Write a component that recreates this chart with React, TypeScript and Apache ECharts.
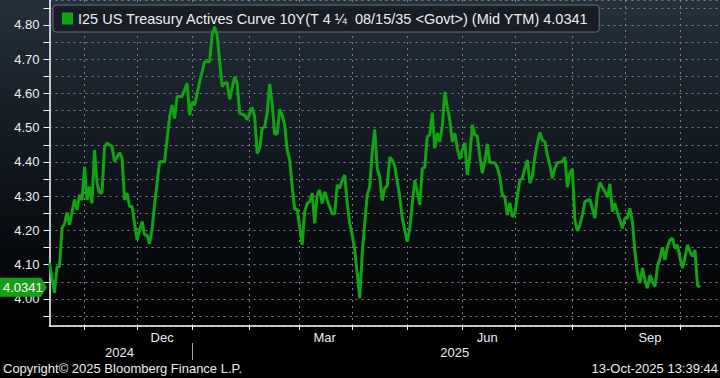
import { useEffect, useRef } from 'react';
import * as echarts from 'echarts';

// Business-day axis: every weekday from 14-Oct-2024 onward
const AXIS_START = [2024, 9, 14];
const AXIS_DAYS = 269;

// Business days since 14-Oct-2024, and the 10Y yield (Mid YTM) on that day
const tradingDay = [
  0, 2, 3, 4, 5, 6, 7, 8, 10, 11, 12, 13, 14, 15, 16, 17, 18, 19, 20, 21, 22, 23, 25, 26, 28, 29,
  30, 31, 32, 33, 35, 36, 37, 38, 39, 40, 41, 42, 44, 46, 48, 49, 50, 51, 53, 55, 56, 57, 58, 60,
  62, 64, 65, 66, 67, 69, 70, 71, 72, 74, 75, 76, 78, 79, 81, 82, 83, 84, 85, 86, 87, 88, 89, 90,
  91, 92, 93, 94, 95, 96, 97, 98, 99, 101, 102, 103, 104, 105, 106, 107, 108, 109, 110, 111, 113,
  114, 115, 116, 117, 118, 119, 120, 121, 122, 123, 124, 125, 126, 127, 128, 129, 130, 131, 132,
  133, 134, 135, 136, 137, 138, 140, 141, 142, 143, 144, 145, 146, 147, 148, 149, 150, 151, 152,
  153, 154, 155, 156, 157, 158, 159, 160, 161, 162, 163, 164, 165, 166, 167, 168, 169, 170, 171,
  172, 173, 174, 175, 176, 178, 179, 180, 181, 182, 183, 184, 185, 186, 187, 188, 189, 190, 191,
  192, 193, 194, 195, 196, 197, 198, 199, 200, 201, 202, 203, 205, 206, 207, 208, 209, 210, 211,
  212, 213, 214, 216, 218, 219, 220, 222, 223, 224, 225, 226, 227, 228, 229, 230, 231, 232, 233,
  234, 235, 236, 237, 238, 239, 240, 241, 242, 243, 244, 245, 246, 247, 248, 249, 250, 251, 252,
  253, 254, 255, 256, 257, 258, 259, 260,
];
const yields = [
  4.105, 4.018, 4.094, 4.094, 4.207, 4.22, 4.252, 4.216, 4.29, 4.26, 4.304, 4.289, 4.386, 4.289,
  4.328, 4.279, 4.435, 4.338, 4.309, 4.31, 4.445, 4.455, 4.445, 4.401, 4.427, 4.411,
  4.289, 4.309, 4.27, 4.27, 4.172, 4.201, 4.226, 4.187, 4.187, 4.161, 4.206, 4.275, 4.401, 4.401,
  4.532, 4.566, 4.527, 4.591, 4.591, 4.63, 4.537, 4.576, 4.566, 4.634,
  4.693, 4.693, 4.771, 4.795, 4.771, 4.62, 4.63, 4.632, 4.583, 4.649, 4.63, 4.542, 4.537, 4.523,
  4.56, 4.532, 4.425, 4.44, 4.498, 4.503, 4.542, 4.628, 4.571, 4.482,
  4.482, 4.554, 4.537, 4.508, 4.435, 4.406, 4.328, 4.262, 4.262, 4.158, 4.255, 4.279, 4.284, 4.309,
  4.221, 4.304, 4.318, 4.279, 4.313, 4.289, 4.248,
  4.25, 4.333, 4.323, 4.347, 4.362, 4.279, 4.221, 4.187, 4.143, 4.075, 4.002, 4.133, 4.221, 4.304,
  4.328, 4.43, 4.495, 4.381, 4.357,
  4.287, 4.323, 4.33, 4.414, 4.406, 4.388, 4.299, 4.236, 4.201, 4.167, 4.206, 4.279, 4.347, 4.313,
  4.275, 4.381, 4.384, 4.474, 4.479,
  4.544, 4.44, 4.484, 4.459, 4.503, 4.605, 4.562, 4.523, 4.459, 4.484, 4.44, 4.408, 4.435, 4.456,
  4.362, 4.418, 4.508, 4.479, 4.476,
  4.416, 4.367, 4.401, 4.453, 4.398, 4.398, 4.384, 4.357, 4.304, 4.297, 4.245, 4.281, 4.24, 4.25,
  4.299, 4.347, 4.352, 4.381, 4.406,
  4.338, 4.357, 4.416, 4.455, 4.486, 4.464, 4.459, 4.42, 4.391, 4.352, 4.381, 4.398, 4.401, 4.414,
  4.326, 4.369, 4.379, 4.23, 4.199,
  4.216, 4.245, 4.284, 4.291, 4.236, 4.307, 4.34, 4.313, 4.297, 4.336, 4.255, 4.279, 4.252, 4.23,
  4.206, 4.236, 4.236, 4.265, 4.226,
  4.138, 4.075, 4.046, 4.09, 4.055, 4.031, 4.07, 4.05, 4.036, 4.094, 4.119, 4.151, 4.114, 4.153,
  4.172, 4.177, 4.148, 4.158, 4.119,
  4.09, 4.119, 4.158, 4.138, 4.124, 4.143, 4.04, 4.0341,
];

const lastValue = 4.0341;
const lastLabel = '4.0341';
const seriesName = 'I25 US Treasury Actives Curve 10Y(T 4 \u00BC  08/15/35 <Govt>) (Mid YTM) 4.0341';
const monthNames = ['Jan', 'Feb', 'Mar', 'Apr', 'May', 'Jun', 'Jul', 'Aug', 'Sep', 'Oct', 'Nov', 'Dec'];
const labelledMonths = [11, 2, 5, 8]; // Dec, Mar, Jun, Sep
const copyright = 'Copyright\u00A9 2025 Bloomberg Finance L.P.';
const stamp = '13-Oct-2025 13:39:44';

const FONT = "'Liberation Sans', 'DejaVu Sans', sans-serif";
const LINE_GREEN = '#12a312';
const TEXT = '#e9edf2';
const GRID = '#7b8087';

function buildDays() {
  const out: { key: string; y: number; m: number }[] = [];
  const d = new Date(Date.UTC(AXIS_START[0], AXIS_START[1], AXIS_START[2]));
  while (out.length < AXIS_DAYS) {
    const wd = d.getUTCDay();
    if (wd !== 0 && wd !== 6) {
      const y = d.getUTCFullYear();
      const m = d.getUTCMonth();
      const dd = d.getUTCDate();
      out.push({ key: `${y}-${String(m + 1).padStart(2, '0')}-${String(dd).padStart(2, '0')}`, y, m });
    }
    d.setUTCDate(d.getUTCDate() + 1);
  }
  return out;
}

export default function App() {
  const ref = useRef<HTMLDivElement>(null);
  useEffect(() => {
    const el = ref.current!;
    const chart = echarts.init(el, null, { renderer: 'svg' });
    const days = buildDays();
    const cats = days.map((d) => d.key);

    const monthStart = new Set<number>();
    const monthGroups: Record<string, number[]> = {};
    const yearGroups: Record<string, number[]> = {};
    days.forEach((d, i) => {
      if (i > 0 && days[i - 1].m !== d.m) monthStart.add(i);
      const mk = `${d.y}-${d.m}`;
      (monthGroups[mk] = monthGroups[mk] || []).push(i);
      (yearGroups[d.y] = yearGroups[d.y] || []).push(i);
    });
    const monthLabelIdx = new Set<number>();
    Object.values(monthGroups).forEach((g) => {
      const m = days[g[0]].m;
      if (labelledMonths.includes(m) && g.length > 15 && g[g.length - 1] < AXIS_DAYS - 1) {
        monthLabelIdx.add(Math.floor((g[0] + g[g.length - 1]) / 2));
      }
    });
    const yearLabelIdx = new Set<number>();
    const yearStart = new Set<number>();
    Object.values(yearGroups).forEach((g) => {
      yearLabelIdx.add(Math.floor((g[0] + g[g.length - 1]) / 2));
      if (g[0] > 0) yearStart.add(g[0]);
    });

    const data = tradingDay.map((d, k) => [d, yields[k]]);

    chart.setOption({
      animation: false,
      backgroundColor: 'transparent',
      textStyle: { fontFamily: FONT },
      grid: { left: 49.5, right: 0, top: 0, bottom: 52, containLabel: false },
      legend: {
        data: [seriesName],
        left: 53,
        top: 5,
        icon: 'rect',
        itemWidth: 11,
        itemHeight: 12,
        itemGap: 5,
        padding: [6, 10, 6, 9],
        backgroundColor: 'rgba(24,29,36,0.96)',
        borderColor: '#6a7078',
        borderWidth: 1,
        borderRadius: 3,
        selectedMode: false,
        textStyle: { color: TEXT, fontSize: 14.5, fontFamily: FONT, padding: [0, 0, 0, 0] },
      },
      xAxis: [
        {
          type: 'category',
          data: cats,
          boundaryGap: false,
          axisLine: { show: true, lineStyle: { color: '#ffffff', width: 1.5 } },
          axisTick: {
            show: true,
            length: 4,
            interval: (i: number) => monthStart.has(i),
            lineStyle: { color: '#ffffff' },
          },
          splitLine: {
            show: true,
            interval: (i: number) => monthStart.has(i),
            lineStyle: { color: GRID, type: [2, 4], width: 1 },
          },
          axisLabel: {
            interval: (i: number) => monthLabelIdx.has(i),
            formatter: (v: string) => monthNames[Number(v.slice(5, 7)) - 1],
            color: TEXT,
            fontSize: 13,
            margin: 5,
            fontFamily: FONT,
          },
        },
        {
          type: 'category',
          data: cats,
          boundaryGap: false,
          position: 'bottom',
          offset: 17,
          axisLine: { show: false },
          axisTick: {
            show: true,
            length: 17,
            interval: (i: number) => yearStart.has(i),
            lineStyle: { color: '#9aa0a6' },
          },
          splitLine: { show: false },
          axisLabel: {
            interval: (i: number) => yearLabelIdx.has(i),
            formatter: (v: string) => v.slice(0, 4),
            color: TEXT,
            fontSize: 13,
            margin: 3,
            fontFamily: FONT,
          },
        },
      ],
      yAxis: {
        type: 'value',
        min: 3.921,
        max: 4.873,
        splitNumber: 19,
        minInterval: 0.05,
        maxInterval: 0.05,
        axisLine: { show: true, lineStyle: { color: '#ffffff', width: 1.5 } },
        axisTick: { show: true, length: 6, lineStyle: { color: '#ffffff' } },
        splitLine: { show: true, lineStyle: { color: GRID, type: [2, 4], width: 1 } },
        axisLabel: {
          color: TEXT,
          fontSize: 13,
          margin: 10,
          fontFamily: FONT,
          showMinLabel: false,
          showMaxLabel: false,
          formatter: (v: number) => {
            const t = v * 10;
            return Math.abs(t - Math.round(t)) < 1e-6 ? v.toFixed(2) : '';
          },
        },
      },
      series: [
        {
          name: seriesName,
          type: 'line',
          xAxisIndex: 0,
          data,
          connectNulls: true,
          showSymbol: false,
          symbol: 'none',
          itemStyle: { color: LINE_GREEN },
          lineStyle: { color: LINE_GREEN, width: 3 },
          z: 5,
        },
      ],
    });

    const py = chart.convertToPixel({ yAxisIndex: 0 }, lastValue) as number;
    chart.setOption({
      graphic: [
        {
          type: 'polygon',
          shape: {
            points: [
              [0, py - 9.5],
              [41, py - 9.5],
              [47, py],
              [41, py + 9.5],
              [0, py + 9.5],
            ],
          },
          style: { fill: '#17a017' },
          z: 10,
        },
        {
          type: 'text',
          x: 3,
          y: py,
          style: {
            text: lastLabel,
            fill: '#ffffff',
            font: `13px ${FONT}`,
            textVerticalAlign: 'middle',
            verticalAlign: 'middle',
          },
          z: 11,
        },
        {
          type: 'text',
          left: 3,
          top: 362,
          style: { text: copyright, fill: TEXT, font: `13px ${FONT}` },
        },
        {
          type: 'text',
          right: 2,
          top: 362,
          style: { text: stamp, fill: TEXT, font: `13px ${FONT}` },
        },
      ],
    });

    return () => chart.dispose();
  }, []);

  return (
    <div
      ref={ref}
      style={{
        position: 'fixed',
        left: 0,
        top: 0,
        width: 720,
        height: 378,
        background: 'linear-gradient(to bottom, #24303b 0px, #10161d 170px, #000000 326px, #000000 378px)',
      }}
    />
  );
}
